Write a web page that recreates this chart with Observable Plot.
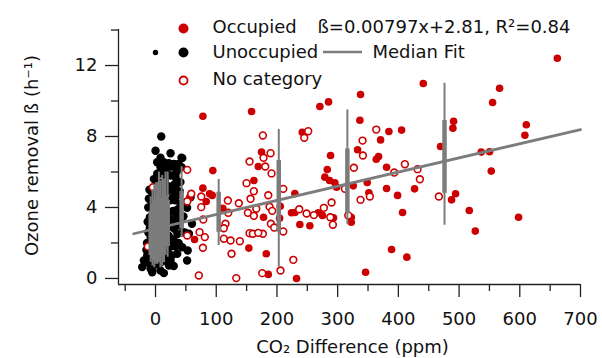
<!DOCTYPE html>
<html><head><meta charset="utf-8">
<script src="https://cdn.jsdelivr.net/npm/d3@7"></script>
<script src="https://cdn.jsdelivr.net/npm/@observablehq/plot@0.6"></script>
<style>body{margin:0;background:#fff}</style>
</head><body><div id="chart"></div>
<script>
// Unoccupied (black) points: CO2 difference (ppm), ozone removal (1/h)
const unoccX = [9.4,0,24.7,8.2,42.8,44,2.7,13.7,21.9,30,38,8.2,16.5,42.8,2.7,11,19.3,24.7,33,-2.7,33,41,-5.5,33,35.7,41.2,-7.1,52,57.7,60,55,53,44,52,35.7,30,-19.2,-22,-8.2,-5.5,8.2,22,24.7,13.7,-2.7,-13.7,-8.2,-9.3,-9.3,-8.2,-11,13.7,-5.5,
  -6,-6,-6,-4,-4,-4,-4,-3,-2,-2,-1,-1,0,0,0,1,1,1,2,2,3,3,4,4,4,5,5,6,6,6,7,7,8,8,9,9,9,10,10,11,11,12,12,13,14,14,15,15,16,16,17,18,18,19,20,20,21,22,23,24,25,26,27,28,29,31,32,34,36,37,39,46,48,50,
  -14,-13,-12,-15,-11,-12,-10,-16,-10,27,29,31,33,35,38,40,42,45,30,36,26];
const unoccY = [8.0,7.2,7.06,6.8,6.8,6.78,6.55,6.55,6.5,6.46,6.46,6.27,6.27,6.27,5.9,5.9,5.9,5.8,5.9,5.6,5.7,5.43,4.86,5.14,4.68,4.2,4.39,3.98,4.58,3.08,2.52,1.58,1.76,1.01,1.39,2.14,1.01,0.64,0.55,0.35,0.45,0.73,1.01,1.2,1.39,1.3,2.33,2.89,3.45,4.02,4.49,0.3,0.45,
  1.8,2.6,3.4,1.0,2.2,3.0,3.8,4.6,1.6,2.4,3.3,4.1,0.8,2.0,2.8,3.6,4.6,5.2,1.3,2.4,3.1,4.0,0.9,1.9,4.8,2.7,3.5,1.5,4.3,5.4,2.2,3.0,0.9,3.8,1.8,2.6,4.6,3.3,5.2,1.3,4.0,2.2,3.0,4.8,1.7,3.6,2.6,5.5,1.0,4.2,3.2,2.0,4.9,2.8,1.5,3.8,5.2,2.4,3.4,4.4,1.8,3.0,5.0,2.2,3.8,2.8,4.4,3.3,2.5,3.9,3.0,3.5,2.6,4.3,
  2.0,3.2,4.0,1.6,1.9,2.6,5.0,0.9,0.9,1.3,4.6,5.3,1.8,3.6,2.0,4.9,3.4,2.6,0.7,6.1,6.3];

// Occupied (filled red) points
const occX = [661.8,566.7,555.2,491,489.8,610.7,608.4,536.5,550.2,553,494.2,487.6,516.8,598,526.7,
  441,337.7,336.6,384.4,405.3,370.7,332.8,367.4,363.6,469.5,380.6,325.7,348.7,351.4,380.6,398.7,426.7,322.4,322.4,406.9,388.8,414,346,
  270.7,285,241.7,174.6,288.3,282.9,278.9,286.7,295.4,298.2,229.5,205.4,177.9,204.3,224,229.5,268,275.1,293.2,237.7,254.2,182.4,185.7,232.3,
  78,158.2,94.4,169.2,162,78,89,93.4,83.5,56,110.9,64.3,153.7];
const occY = [12.41,10.72,9.92,8.86,8.47,8.66,8.07,7.12,7.14,6.05,4.77,4.43,3.83,3.45,2.67,
  10.99,10.37,8.92,8.28,8.36,7.81,7.25,6.87,6.72,7.44,6.27,5.22,5.41,4.83,5.07,4.68,5.05,3.45,3.17,3.72,1.63,1.2,0.35,
  9.69,9.95,8.24,7.12,6.93,6.14,5.71,5.52,5.39,5.14,4.79,4.07,3.45,3.40,3.70,3.72,3.70,3.55,3.42,3.04,2.97,1.39,0.23,0.0,
  9.14,9.41,6.08,6.31,5.52,5.09,4.77,4.68,4.34,4.55,3.96,2.20,1.71];

// No category (open red) points
const noneX = [363.6,341,341.6,326.7,410.7,393.2,431.6,435.4,337.7,353,466.7,
  251.5,245,176.8,189.5,177.9,180.7,191.1,311.9,210.4,185.7,187.8,192.2,190,195.5,210.4,176.8,236.7,248.8,260.8,277.3,290,287.8,292.1,317.5,226.9,205.9,175.8,
  154.9,52.2,149.9,162,156.5,75.3,58.8,52.2,75.3,119.1,137.2,119.8,152.1,165.9,78.6,115.3,112.5,112.5,123.6,138.9,154.9,160.3,169.2,72.5,81.2,52.2,78,125.2,71.3,133,162,
  -4.4,-12.7];
const noneY = [8.39,7.77,6.93,6.24,6.44,5.97,6.16,5.59,4.43,4.62,4.62,
  8.30,7.93,8.06,7.06,6.8,6.31,5.92,5.05,5.05,4.69,4.04,3.81,3.08,2.87,2.65,2.52,3.90,3.66,3.57,3.98,4.28,3.45,3.03,3.55,1.05,0.45,0.30,
  6.59,6.12,5.37,4.92,4.49,4.62,4.77,4.34,4.02,4.39,4.24,3.70,3.70,3.93,3.32,3.08,2.83,2.24,2.14,2.10,2.55,2.52,2.57,2.61,2.33,2.42,1.73,1.39,0.17,0.02,3.53,
  5.14,1.80];

// Median fit bins: position, whisker range, inner range
const binX  = [-8,-5,-2,1,3,5.5,8,11,14,16.5,20,43,104,203,316,476];
const binLo = [0.9,0.7,0.6,0.8,0.8,0.9,0.6,0.7,0.9,1.3,1.2,2.3,1.86,0.64,3.05,3.0];
const binHi = [4.6,5.0,5.3,5.4,5.4,6.0,5.5,5.8,5.6,6.0,6.0,6.3,5.58,8.4,9.5,11.0];
const binQ1 = [1.3,1.1,1.0,1.2,1.3,1.4,1.2,1.5,1.6,2.0,1.8,2.8,2.6,2.6,3.65,4.8];
const binQ3 = [3.8,4.2,4.4,4.5,4.6,4.7,4.4,4.5,4.3,4.6,4.4,4.9,4.86,6.65,7.3,8.9];

// Median fit line endpoints (ß = 0.00797x + 2.81)
const fitX = [-36, 700];
const fitY = [2.52, 8.39];

const xMajor = [0,100,200,300,400,500,600,700];
const xMinor = [-50,50,150,250,350,450,550,650];
const yMajor = [0,4,8,12];
const yMinor = [2,6,10,14];

const xDomain = [-61, 700];
const yDomain = [-0.34, 14.03];

const RED = "#cc0000", GRAY = "#7c7c7c", AX = "#222";

const pts = (xs, ys) => xs.map((x, i) => ({x, y: ys[i]}));
const unocc = pts(unoccX, unoccY);
const occ = pts(occX, occY);
const none = pts(noneX, noneY);
const bins = binX.map((x, i) => ({x, lo: binLo[i], hi: binHi[i], q1: binQ1[i], q3: binQ3[i]}));
const fit = pts(fitX, fitY);

const mL = 118, mT = 29;
const legendLine = () => {
  const g = d3.create("svg:g");
  g.append("line").attr("x1", 323).attr("x2", 362).attr("y1", 52).attr("y2", 52)
    .attr("stroke", GRAY).attr("stroke-width", 2.6);
  return g.node();
};
const lt = (text, dx, dy) => Plot.text([text], {frameAnchor: "top-left", dx, dy, textAnchor: "start", lineAnchor: "middle", fill: "#111", fontSize: 18});

const chart = Plot.plot({
  width: 602, height: 358,
  marginLeft: mL, marginRight: 22, marginTop: mT, marginBottom: 74,
  x: {domain: xDomain},
  y: {domain: yDomain},
  style: {fontFamily: "DejaVu Sans", fontSize: "18px", color: "#111", background: "#fff", overflow: "visible"},
  marks: [
    Plot.dot(unocc, {x: "x", y: "y", r: 4.2, fill: "black"}),
    Plot.dot(occ, {x: "x", y: "y", r: 3.8, fill: RED}),
    Plot.dot(none, {x: "x", y: "y", r: 3.4, fill: "white", stroke: RED, strokeWidth: 1.6}),
    Plot.ruleX(bins, {x: "x", y1: "lo", y2: "hi", stroke: GRAY, strokeWidth: 2}),
    Plot.ruleX(bins, {x: "x", y1: "q1", y2: "q3", stroke: GRAY, strokeWidth: 4.5}),
    Plot.line(fit, {x: "x", y: "y", stroke: GRAY, strokeWidth: 2.8}),
    Plot.ruleX([xDomain[0]], {stroke: AX, strokeWidth: 1.3}),
    Plot.ruleY([yDomain[0]], {stroke: AX, strokeWidth: 1.3}),
    Plot.axisX({ticks: xMajor, tickSize: 13, tickPadding: 15, label: null, stroke: AX, strokeWidth: 1.3, fill: "#111"}),
    Plot.axisX({ticks: xMinor, tickSize: 7, tickFormat: () => "", label: null, stroke: AX, strokeWidth: 1.3}),
    Plot.axisY({ticks: yMajor, tickSize: 13, tickPadding: 8, label: null, stroke: AX, strokeWidth: 1.3, fill: "#111"}),
    Plot.axisY({ticks: yMinor, tickSize: 7, tickFormat: () => "", label: null, stroke: AX, strokeWidth: 1.3}),
    Plot.text(["CO₂ Difference (ppm)"], {frameAnchor: "bottom", dx: 3, dy: 63, lineAnchor: "middle", fill: "#111", fontSize: 18}),
    Plot.text(["Ozone removal ß (h⁻¹)"], {frameAnchor: "left", dx: -86, dy: -1.5, rotate: -90, textAnchor: "middle", lineAnchor: "middle", fill: "#111", fontSize: 18}),
    // legend
    Plot.dot([0], {frameAnchor: "top-left", dx: 183 - mL, dy: 28 - mT, r: 5, fill: RED}),
    Plot.dot([0], {frameAnchor: "top-left", dx: 155 - mL, dy: 52 - mT, r: 2.7, fill: "black"}),
    Plot.dot([0], {frameAnchor: "top-left", dx: 183 - mL, dy: 52 - mT, r: 5, fill: "black"}),
    Plot.dot([0], {frameAnchor: "top-left", dx: 183 - mL, dy: 80 - mT, r: 4, fill: "white", stroke: RED, strokeWidth: 1.8}),
    lt("Occupied", 212 - mL, 27 - mT),
    lt("ß=0.00797x+2.81, R²=0.84", 317 - mL, 27 - mT),
    lt("Unoccupied", 212 - mL, 52 - mT),
    lt("Median Fit", 372 - mL, 52 - mT),
    lt("No category", 212 - mL, 79 - mT),
    legendLine
  ]
});
document.getElementById("chart").append(chart);
</script>
</body></html>
